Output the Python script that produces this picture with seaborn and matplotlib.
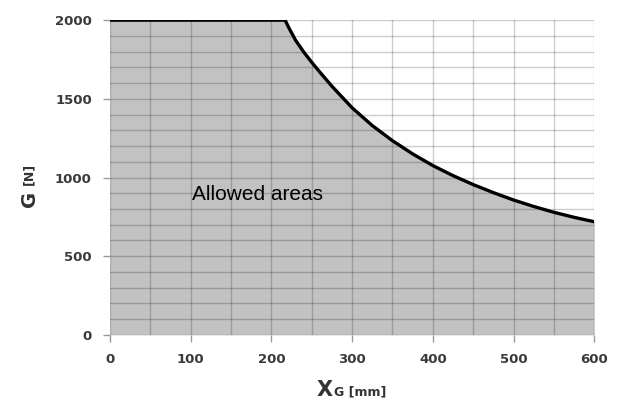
import matplotlib
matplotlib.use("Agg")
import matplotlib.pyplot as plt
import pandas as pd
import seaborn as sns

# Limit curve: X_G [mm] vs G [N]
x_mm = [0, 100, 217, 222, 230, 240, 250, 260, 275, 300, 325, 350, 375, 400,
        425, 450, 475, 500, 525, 550, 575, 600]
g_n = [2000, 2000, 2000, 1948, 1872, 1798, 1732, 1670, 1580, 1443, 1330, 1234,
       1150, 1076, 1012, 955, 904, 857, 816, 779, 747, 719]

x_ticks = [0, 100, 200, 300, 400, 500, 600]
y_ticks = [0, 500, 1000, 1500, 2000]

df = pd.DataFrame({"x": x_mm, "g": g_n})

sns.set_style("white", {"xtick.bottom": True, "ytick.left": True})
plt.rcParams['font.family'] = ['DejaVu Sans']

fig = plt.figure(figsize=(6.21, 4.03), dpi=100)
ax = fig.add_axes([0.177, 0.169, 0.780, 0.781])

# allowed area
ax.fill_between(df["x"], 0, df["g"], color="#c2c2c2", zorder=1, lw=0)
sns.lineplot(data=df, x="x", y="g", color="black", linewidth=2.4, ax=ax, zorder=4)

ax.set_xlim(0, 600)
ax.set_ylim(0, 2000)
ax.set_xticks(x_ticks)
ax.set_yticks(y_ticks)
ax.set_xticks(range(0, 601, 50), minor=True)
ax.set_yticks(range(0, 2001, 100), minor=True)
ax.grid(which="both", color="black", alpha=0.2, linewidth=1.0, zorder=2)
ax.set_axisbelow(False)
ax.tick_params(axis="both", which="major", bottom=True, left=True, length=5,
               width=1, color="#999999", labelsize=9.5, labelcolor="#3a3a3a", pad=8)
ax.tick_params(axis="both", which="minor", length=0)
for lbl in ax.get_xticklabels() + ax.get_yticklabels():
    lbl.set_fontweight("bold")
for s in ax.spines.values():
    s.set_visible(False)
ax.set_xlabel("")
ax.set_ylabel("")

fig.text(192 / 621, 1 - 194 / 403, "Allowed areas", fontsize=15,
         family="Liberation Sans", va="center", ha="left", color="black")

# axis labels with small subscripts
fig.text(317 / 621, 1 - 390 / 403, "X", fontsize=15, fontweight="bold",
         color="#333333", va="center", ha="left")
fig.text(334 / 621, 1 - 392 / 403, "G [mm]", fontsize=9, fontweight="bold",
         color="#333333", va="center", ha="left")
fig.text(29 / 621, 1 - 199 / 403, "G", fontsize=14, fontweight="bold",
         color="#333333", va="center", ha="center", rotation=90)
fig.text(29 / 621, 1 - 174 / 403, "[N]", fontsize=9, fontweight="bold",
         color="#333333", va="center", ha="center", rotation=90)

fig.savefig("out.png", dpi=100)
